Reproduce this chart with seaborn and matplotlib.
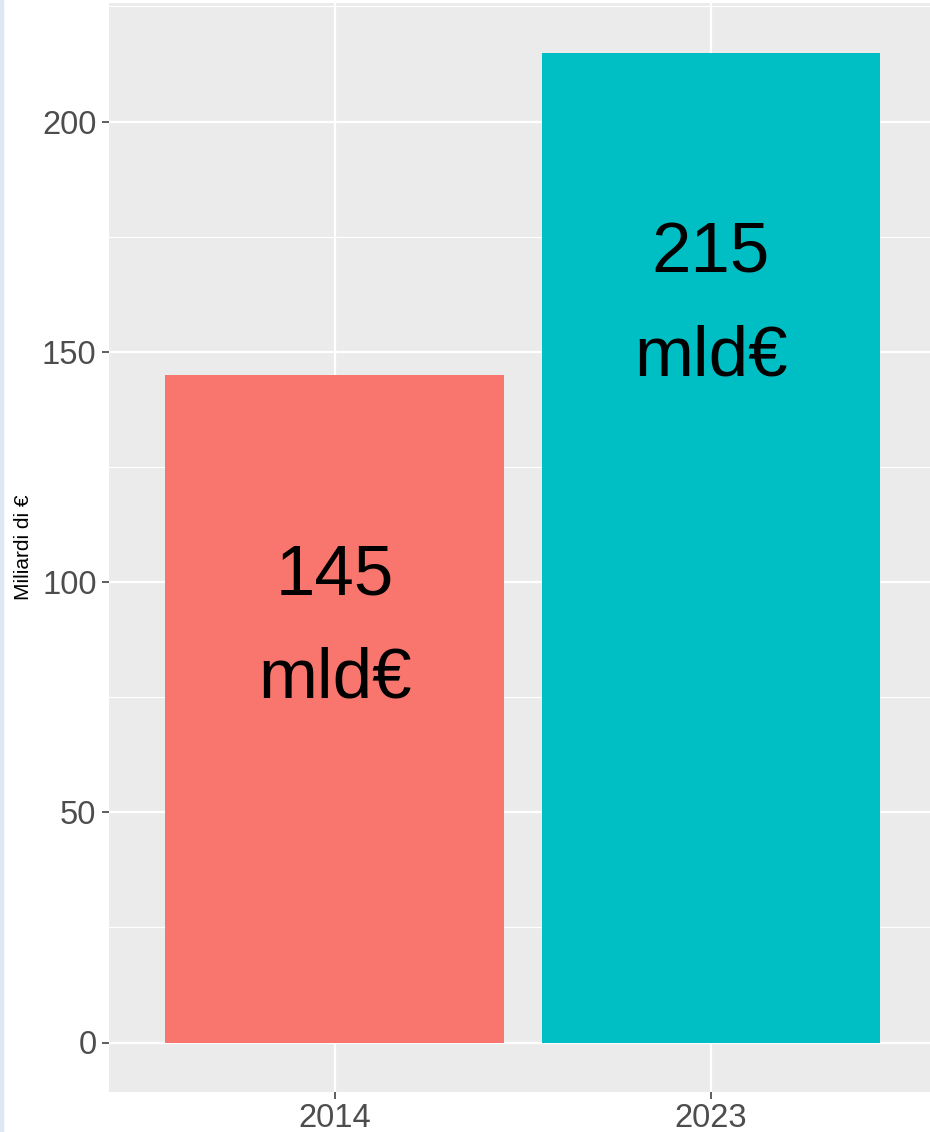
import matplotlib.pyplot as plt
import matplotlib.patches as mpatches
import numpy as np
import pandas as pd
import seaborn as sns

years = ["2014", "2023"]
values = [145, 215]
labels = ["145\nmld€", "215\nmld€"]
colors = ["#F8766D", "#00BFC4"]

FONT = ["Liberation Sans", "DejaVu Sans"]

df = pd.DataFrame({"year": years, "value": values})

sns.set_theme(style="darkgrid")
plt.rcParams["font.family"] = FONT

fig = plt.figure(figsize=(9.3, 11.32), dpi=100)
W, H = 930, 1132
# panel runs past the right edge in the reference (cropped screenshot)
ax = fig.add_axes([109 / W, 1 - 1092 / H, (936.6 - 109) / W, (1092 - 3) / H])
ax.set_facecolor("#EBEBEB")

sns.barplot(
    data=df, x="year", y="value", hue="year", palette=colors,
    width=0.9, saturation=1, legend=False, ax=ax, zorder=3,
)
for patch in ax.patches:
    patch.set_linewidth(0)

for i, (v, lab) in enumerate(zip(values, labels)):
    ax.text(i, v - 55, lab, ha="center", va="center", fontsize=51,
            color="black", linespacing=1.72, zorder=4, family=FONT)

ax.set_xlim(-0.6, 1.6)
ax.set_ylim(-10.75, 225.75)
ax.set_yticks([0, 50, 100, 150, 200])
ax.set_yticks([25, 75, 125, 175, 225], minor=True)
ax.grid(which="major", color="white", linewidth=1.6, zorder=0)
ax.grid(which="minor", axis="y", color="white", linewidth=0.8, zorder=0)
ax.set_axisbelow(True)
for s in ax.spines.values():
    s.set_visible(False)

ax.tick_params(axis="both", which="major", length=5, width=1.1, color="#333333",
               labelsize=23.5, labelcolor="#4D4D4D", pad=3, left=True, bottom=True)
ax.tick_params(axis="y", which="major", pad=4)
ax.tick_params(axis="both", which="minor", length=0)
ax.set_xlabel("")
ax.set_ylabel("Miliardi di €", fontsize=15, color="black")
ax.yaxis.set_label_coords(-76 / 827.6, 0.5)

# thin light-blue border on the left edge of the screenshot
fig.patches.append(mpatches.Rectangle((0, 0), 2.5 / W, 1, transform=fig.transFigure,
                                      color="#DCE9F5", zorder=0))

fig.savefig("out.png", dpi=100)
